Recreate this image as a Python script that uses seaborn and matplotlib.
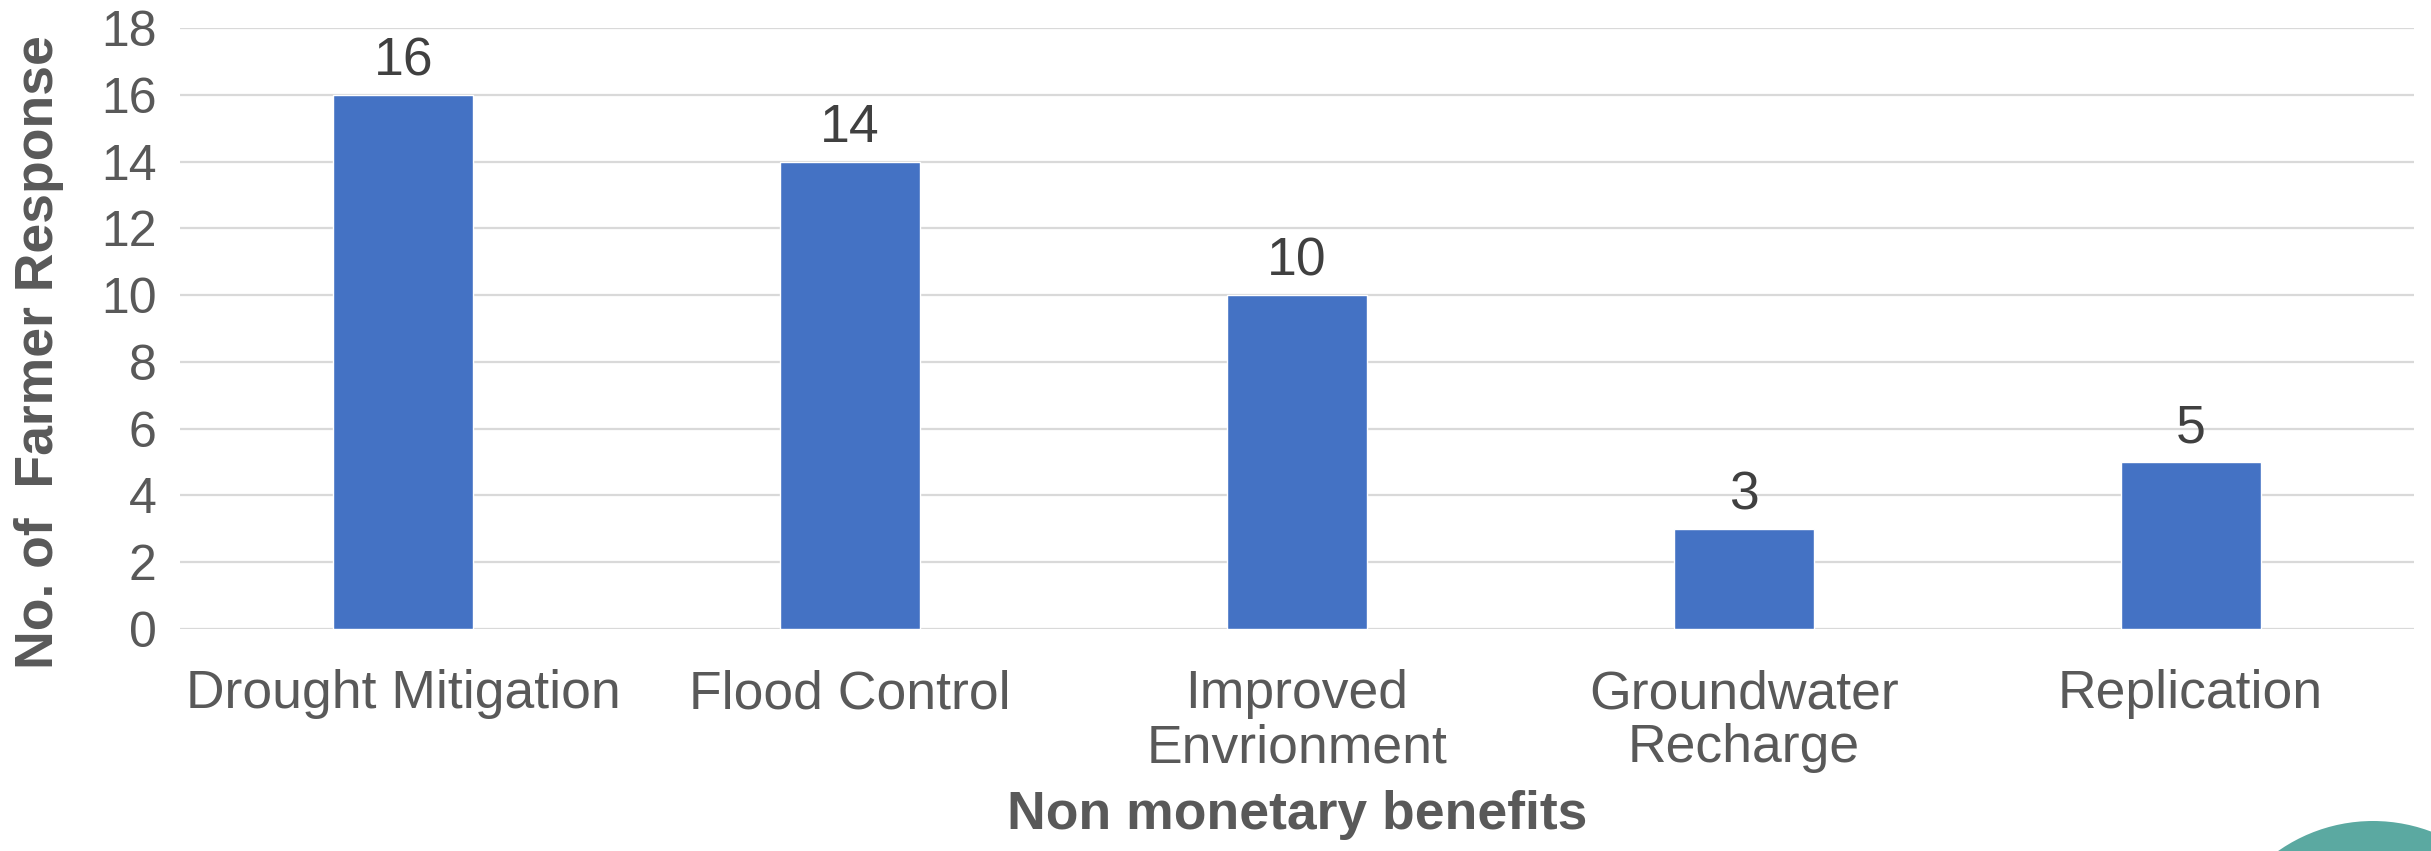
import matplotlib
matplotlib.use("Agg")
import matplotlib.pyplot as plt
from matplotlib.patches import Ellipse
import seaborn as sns
import pandas as pd

# Survey results: farmers citing each non-monetary benefit
categories = ["Drought Mitigation", "Flood Control", "Improved\nEnvrionment",
              "Groundwater\nRecharge", "Replication"]
responses = [16, 14, 10, 3, 5]
y_ticks = [0, 2, 4, 6, 8, 10, 12, 14, 16, 18]

df = pd.DataFrame({"benefit": categories, "count": responses})

sns.set_theme(style="white")
plt.rcParams["font.family"] = ["Liberation Sans", "DejaVu Sans"]

W, H = 2431, 851
fig = plt.figure(figsize=(W / 100, H / 100), dpi=100)
ax = fig.add_axes([180 / W, 1 - 629 / H, (2414 - 180) / W, (629 - 28) / H])

sns.barplot(data=df, x="benefit", y="count", color="#4472C4", saturation=1,
            width=0.313, ax=ax, zorder=3)

ax.set_ylim(0, 18)
ax.set_yticks(y_ticks)
ax.yaxis.grid(True, color="#D9D9D9", linewidth=1.6, zorder=0)
ax.xaxis.grid(False)
for s in ax.spines.values():
    s.set_visible(False)

ax.tick_params(axis="y", length=0, pad=17, labelsize=36, labelcolor="#595959")
ax.tick_params(axis="x", length=0, pad=29, labelsize=38.5, labelcolor="#595959")
for lbl in ax.get_xticklabels():
    lbl.set_linespacing(1.1)

ax.bar_label(ax.containers[0], labels=[str(v) for v in responses],
             padding=6, fontsize=38.5, color="#404040")

ax.set_xlabel("Non monetary benefits", fontsize=38.5, fontweight="bold",
              color="#595959")
ax.set_ylabel("No. of  Farmer Response", fontsize=38.5, fontweight="bold",
              color="#595959")
ax.xaxis.set_label_coords(0.5, -0.268)
ax.yaxis.set_label_coords(-0.052, 0.46)

# decorative teal disc peeking in at the lower right corner
r = 165
fig.patches.append(Ellipse((2373 / W, 1 - 986 / H), 2 * r / W, 2 * r / H,
                           transform=fig.transFigure, facecolor="#5BA9A1",
                           edgecolor="none"))

fig.savefig("out.png", dpi=100)
